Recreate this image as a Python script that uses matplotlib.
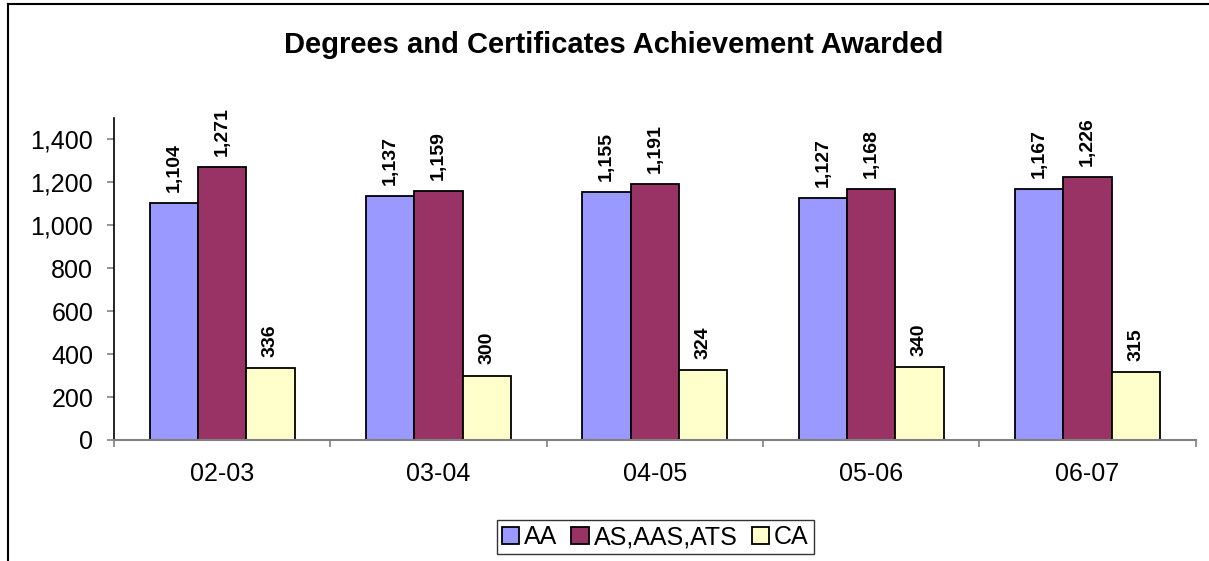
import numpy as np
import matplotlib.pyplot as plt
from matplotlib.lines import Line2D
from matplotlib.ticker import FuncFormatter

plt.rcParams['font.family'] = ['Liberation Sans', 'DejaVu Sans']

# data
anos = ['02-03', '03-04', '04-05', '05-06', '06-07']
aa = [1104, 1137, 1155, 1127, 1167]
as_aas_ats = [1271, 1159, 1191, 1168, 1226]
ca = [336, 300, 324, 340, 315]

series = [('AA', aa, '#9999FF'),
          ('AS,AAS,ATS', as_aas_ats, '#993366'),
          ('CA', ca, '#FFFFCC')]

fig = plt.figure(figsize=(12.09, 5.61), dpi=100)
ax = fig.add_axes([0.0943, 0.2157, 0.8947, 0.574])

x = np.arange(len(anos))
w = 0.223
for i, (nome, vals, cor) in enumerate(series):
    pos = x + (i - 1) * w
    bars = ax.bar(pos, vals, width=w, color=cor, edgecolor='black',
                  linewidth=1.3, label=nome, zorder=2)
    for b, v in zip(bars, vals):
        ax.annotate(f'{v:,}', (b.get_x() + b.get_width() / 2, v),
                    xytext=(0, 8), textcoords='offset points',
                    ha='center', va='bottom', rotation=90,
                    fontsize=14, fontweight='bold')

ax.set_xlim(-0.5, len(anos) - 0.5)
ax.set_ylim(0, 1500)
ax.set_yticks(range(0, 1401, 200))
ax.yaxis.set_major_formatter(FuncFormatter(lambda v, p: f'{int(v):,}'))
ax.set_xticks(x)
ax.set_xticklabels(anos)
ax.set_xticks(np.arange(-0.5, len(anos), 1), minor=True)

ax.tick_params(axis='x', which='major', length=0, pad=16, labelsize=18)
ax.tick_params(axis='x', which='minor', length=5, width=1.2, color='#808080')
ax.tick_params(axis='y', length=5, width=1.2, color='#808080', labelsize=18, pad=10)

for s in ['top', 'right']:
    ax.spines[s].set_visible(False)
ax.spines['left'].set_color('black')
ax.spines['left'].set_linewidth(1.2)
ax.spines['bottom'].set_color('#808080')
ax.spines['bottom'].set_linewidth(1.5)

fig.text(0.508, 1 - 53 / 561, 'Degrees and Certificates Achievement Awarded',
         ha='center', va='baseline', fontsize=21, fontweight='bold')

leg = fig.legend(loc='center', bbox_to_anchor=(0.542, 0.042), ncol=3,
                 fontsize=18, frameon=True, fancybox=False, edgecolor='black',
                 handlelength=0.7, handleheight=0.7, handletextpad=0.2,
                 columnspacing=0.55, borderpad=0.2, borderaxespad=0)
leg.get_frame().set_linewidth(1.0)

# moldura do grafico (cortada a direita e embaixo)
fig.add_artist(Line2D([8 / 1209, 1.0], [1 - 4 / 561, 1 - 4 / 561],
                      color='black', linewidth=1.5, transform=fig.transFigure))
fig.add_artist(Line2D([8 / 1209, 8 / 1209], [0, 1 - 4 / 561],
                      color='black', linewidth=1.5, transform=fig.transFigure))

fig.savefig('out.png', dpi=100)
